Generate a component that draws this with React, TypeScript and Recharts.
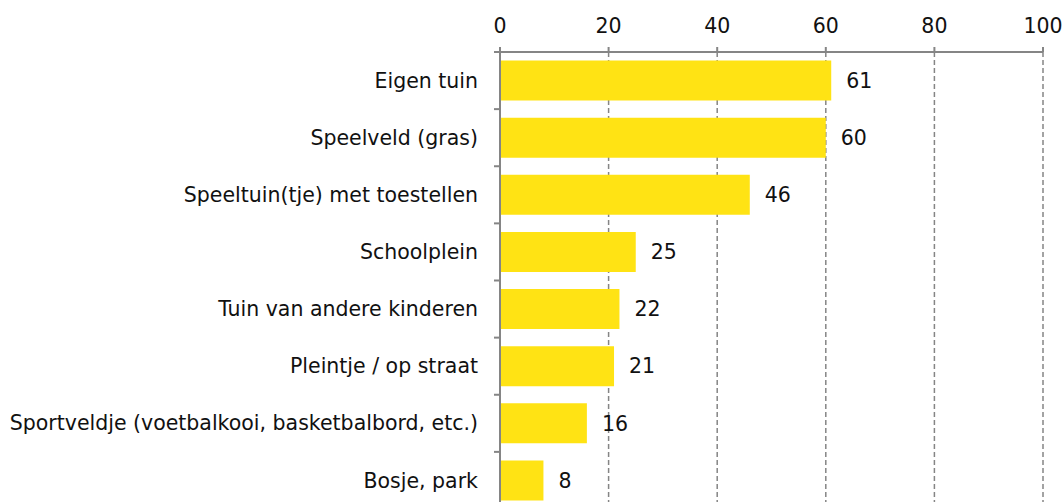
import React from 'react';
import {
    BarChart,
    Bar,
    XAxis,
    YAxis,
    CartesianGrid,
    LabelList
} from 'recharts';

// Speelplekken, percentage
const categories = [
    'Eigen tuin',
    'Speelveld (gras)',
    'Speeltuin(tje) met toestellen',
    'Schoolplein',
    'Tuin van andere kinderen',
    'Pleintje / op straat',
    'Sportveldje (voetbalkooi, basketbalbord, etc.)',
    'Bosje, park',
];
const values = [61, 60, 46, 25, 22, 21, 16, 8];
const xTicks = [0, 20, 40, 60, 80, 100];

const FONT = '"DejaVu Sans", Verdana, sans-serif';
const FONT_SIZE = 20.5;
const TEXT = '#111';
const AXIS_GREY = '#858585';
const BAR_YELLOW = '#FFE314';
const Y_TICK_SIZE = 6;
const Y_TICK_GAP = 16;

// Category tick: label at band centre, tick mark at the band edges
const CategoryTick = ({ x, y, payload, index }: any) => {
    const axisX = x + Y_TICK_SIZE + Y_TICK_GAP;
    const half = payload && payload.offset ? payload.offset : 0;
    const mark = (yy: number) => (
        <line x1={axisX - Y_TICK_SIZE} x2={axisX} y1={yy} y2={yy} stroke={AXIS_GREY} strokeWidth={2} />
    );
    return (
        <g>
            {half > 0 && mark(y - half)}
            {half > 0 && index === categories.length - 1 && mark(y + half)}
            <text x={x} y={y} dy="0.35em" textAnchor="end" fill={TEXT} fontSize={FONT_SIZE} fontFamily={FONT}>
                {payload.value}
            </text>
        </g>
    );
};

export default function App() {
    const chartData = categories.map((name, i) => ({ name, value: values[i] }));

    return (
        <div style={{ position: 'absolute', left: 0, top: 0, fontFamily: FONT }}>
            <BarChart
                width={1064}
                height={520}
                data={chartData}
                layout="vertical"
                barCategoryGap="15%"
                margin={{ top: 0, right: 21, bottom: 11, left: 0 }}
            >
                <CartesianGrid
                    horizontal={false}
                    stroke={AXIS_GREY}
                    strokeWidth={1.5}
                    strokeDasharray="5 3"
                />
                <XAxis
                    type="number"
                    orientation="top"
                    domain={[0, 100]}
                    ticks={xTicks}
                    interval={0}
                    height={52}
                    tickSize={5}
                    tickMargin={14}
                    stroke={AXIS_GREY}
                    strokeWidth={2}
                    tick={{ fill: TEXT, fontSize: FONT_SIZE, fontFamily: FONT }}
                />
                <YAxis
                    type="category"
                    dataKey="name"
                    width={500}
                    interval={0}
                    tickSize={Y_TICK_SIZE}
                    tickMargin={Y_TICK_GAP}
                    tickLine={false}
                    axisLine={{ stroke: AXIS_GREY, strokeWidth: 2 }}
                    tick={<CategoryTick />}
                />
                <Bar dataKey="value" fill={BAR_YELLOW} isAnimationActive={false}>
                    <LabelList
                        dataKey="value"
                        position="right"
                        offset={15}
                        fill={TEXT}
                        fontSize={FONT_SIZE}
                        fontFamily={FONT}
                    />
                </Bar>
            </BarChart>
        </div>
    );
}
